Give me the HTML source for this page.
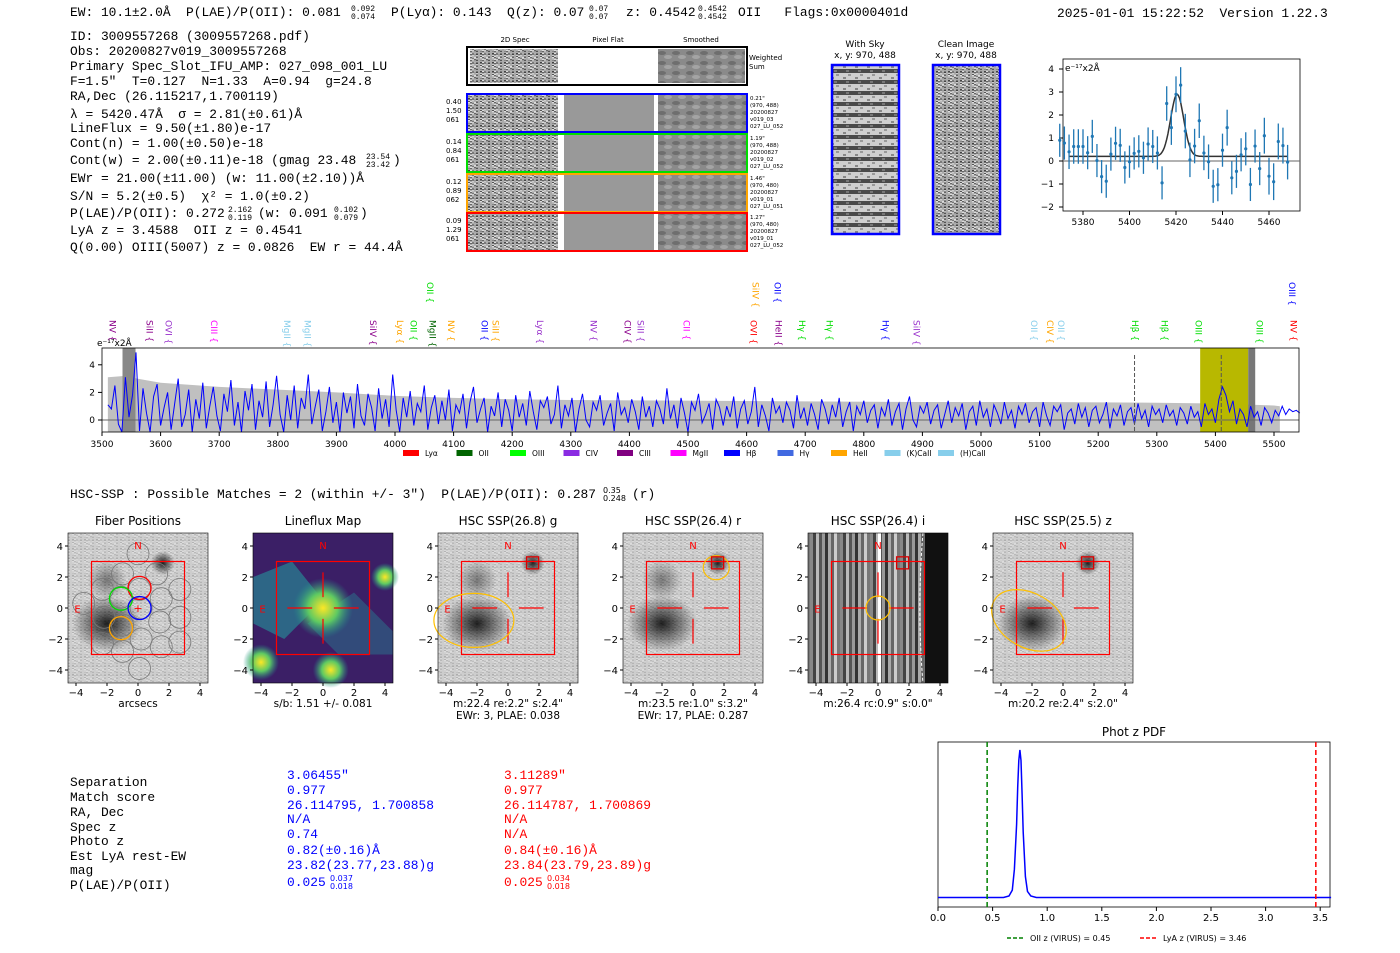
<!DOCTYPE html>
<html><head><meta charset="utf-8"><style>
body{margin:0;background:#fff;width:1400px;height:953px;overflow:hidden}
svg{display:block}
.m{font-family:"Liberation Mono",monospace;font-size:12.9px}
.s{font-family:"DejaVu Sans","Liberation Sans",sans-serif}
</style></head><body>
<svg id="root" width="1400" height="953" viewBox="0 0 1400 953" xmlns="http://www.w3.org/2000/svg">
<g class="m" fill="#000">
<text x="70" y="16">EW: 10.1±2.0Å&#160; P(LAE)/P(OII): 0.081</text>
<text x="351" y="11" font-size="8">0.092</text><text x="351" y="19" font-size="8">0.074</text>
<text x="391" y="16">P(Lyα): 0.143&#160; Q(z): 0.07</text><text x="589" y="11" font-size="8">0.07</text><text x="589" y="19" font-size="8">0.07</text>
<text x="626" y="16">z: 0.4542</text><text x="698" y="11" font-size="8">0.4542</text><text x="698" y="19" font-size="8">0.4542</text>
<text x="738" y="16">OII&#160;&#160;&#160;Flags:0x0000401d</text>
<text x="1057" y="17">2025-01-01 15:22:52&#160; Version 1.22.3</text>
</g>
<g class="m">
<text x="70" y="40">ID: 3009557268 (3009557268.pdf)</text>
<text x="70" y="55">Obs: 20200827v019_3009557268</text>
<text x="70" y="70">Primary Spec_Slot_IFU_AMP: 027_098_001_LU</text>
<text x="70" y="85">F=1.5"&#160; T=0.127&#160; N=1.33&#160; A=0.94&#160; g=24.8</text>
<text x="70" y="100">RA,Dec (26.115217,1.700119)</text>
<text x="70" y="118">λ = 5420.47Å&#160; σ = 2.81(±0.61)Å</text>
<text x="70" y="132">LineFlux = 9.50(±1.80)e-17</text>
<text x="70" y="147">Cont(n) = 1.00(±0.50)e-18</text>
<text x="70" y="164">Cont(w) = 2.00(±0.11)e-18 (gmag 23.48</text><text x="366" y="159" font-size="8">23.54</text><text x="366" y="167" font-size="8">23.42</text><text x="393" y="164">)</text>
<text x="70" y="182">EWr = 21.00(±11.00) (w: 11.00(±2.10))Å</text>
<text x="70" y="200">S/N = 5.2(±0.5)&#160; χ² = 1.0(±0.2)</text>
<text x="70" y="217">P(LAE)/P(OII): 0.272</text><text x="228" y="212" font-size="8">2.162</text><text x="228" y="220" font-size="8">0.119</text><text x="258" y="217">(w: 0.091</text><text x="334" y="212" font-size="8">0.102</text><text x="334" y="220" font-size="8">0.079</text><text x="360" y="217">)</text>
<text x="70" y="234">LyA z = 3.4588&#160; OII z = 0.4541</text>
<text x="70" y="251">Q(0.00) OIII(5007) z = 0.0826&#160; EW r = 44.4Å</text>
</g>
<g id="spec2d" class="s" font-size="7"></g>
<g id="small" class="s"></g>
<g id="spec" class="s"></g>
<text x="70" y="498" class="m">HSC-SSP : Possible Matches = 2 (within +/- 3")&#160; P(LAE)/P(OII): 0.287</text>
<text x="603" y="493" class="s" font-size="8">0.35</text><text x="603" y="501" class="s" font-size="8">0.248</text><text x="632" y="498" class="m">(r)</text>
<g id="cut" class="s"></g>
<g class="m">
<text x="70" y="786">Separation</text><text x="70" y="801">Match score</text><text x="70" y="816">RA, Dec</text><text x="70" y="831">Spec z</text><text x="70" y="845">Photo z</text><text x="70" y="860">Est LyA rest-EW</text><text x="70" y="874">mag</text><text x="70" y="889">P(LAE)/P(OII)</text>
<g fill="#0000ff"><text x="287" y="779">3.06455"</text><text x="287" y="794">0.977</text><text x="287" y="809">26.114795, 1.700858</text><text x="287" y="823">N/A</text><text x="287" y="838">0.74</text><text x="287" y="854">0.82(±0.16)Å</text><text x="287" y="869">23.82(23.77,23.88)g</text><text x="287" y="886">0.025</text><text x="330" y="881" font-size="8" class="s">0.037</text><text x="330" y="889" font-size="8" class="s">0.018</text></g>
<g fill="#ff0000"><text x="504" y="779">3.11289"</text><text x="504" y="794">0.977</text><text x="504" y="809">26.114787, 1.700869</text><text x="504" y="823">N/A</text><text x="504" y="838">N/A</text><text x="504" y="854">0.84(±0.16)Å</text><text x="504" y="869">23.84(23.79,23.89)g</text><text x="504" y="886">0.025</text><text x="547" y="881" font-size="8" class="s">0.034</text><text x="547" y="889" font-size="8" class="s">0.018</text></g>
</g>
<g id="pdf" class="s"></g>
</svg>
<script>
const NS='http://www.w3.org/2000/svg';
function mk(p,t,a,txt){const e=document.createElementNS(NS,t);for(const k in a)e.setAttribute(k,a[k]);if(txt!==undefined)e.textContent=txt;p.appendChild(e);return e;}

// ---------- Line fit plot data ----------
const fitWave=[5370,5372,5374,5376,5378,5380,5382,5384,5386,5388,5390,5392,5394,5396,5398,5400,5402,5404,5406,5408,5410,5412,5414,5416,5418,5420,5422,5424,5426,5428,5430,5432,5434,5436,5438,5440,5442,5444,5446,5448,5450,5452,5454,5456,5458,5460,5462,5464,5466,5468];
const fitFlux=[0.9,0.78,0.4,0.63,0.63,0.63,0.36,1.07,0.02,-0.68,-0.88,0.3,0.77,0.68,-0.28,-0.03,0.33,0.42,0.14,0.74,0.63,0.35,-0.95,2.5,1.45,2.9,3.3,1.3,0.05,0.65,1.75,0.35,-0.03,-1.1,-1.03,0.47,1.45,-0.73,-0.45,0.27,0.53,-1.02,0.65,-0.33,1.1,-0.66,-0.9,0.85,0.67,-0.05];
const fitErr=[0.72,0.72,0.75,0.75,0.75,0.75,0.72,0.72,0.72,0.72,0.72,0.72,0.72,0.72,0.7,0.7,0.7,0.7,0.7,0.72,0.72,0.72,0.72,0.75,0.75,0.78,0.78,0.75,0.75,0.75,0.75,0.75,0.75,0.72,0.72,0.72,0.78,0.72,0.72,0.72,0.72,0.72,0.72,0.72,0.78,0.8,0.8,0.78,0.78,0.75];
const fitModel={center:5420.5,amp:2.7,sigma:2.8,base:0.2};
const fitXTicks=[5380,5400,5420,5440,5460];
const fitYTicks=[-2,-1,0,1,2,3,4];
(function(){
 const g=document.getElementById('small');
 const X=w=>1083+(w-5380)*2.325, Y=v=>161-v*23;
 mk(g,'rect',{x:1063,y:59,width:237,height:152,fill:'#fff',stroke:'#000','stroke-width':0.8});
 mk(g,'line',{x1:1063,x2:1300,y1:Y(0),y2:Y(0),stroke:'#666','stroke-width':1});
 fitXTicks.forEach(t=>{mk(g,'line',{x1:X(t),x2:X(t),y1:211,y2:215,stroke:'#000'});mk(g,'text',{x:X(t),y:225,'font-size':9,'text-anchor':'middle'},t);});
 fitYTicks.forEach(t=>{mk(g,'line',{x1:1059,x2:1063,y1:Y(t),y2:Y(t),stroke:'#000'});mk(g,'text',{x:1054,y:Y(t)+3,'font-size':9,'text-anchor':'end'},t<0?'−'+(-t):t);});
 mk(g,'text',{x:1065,y:71,'font-size':9},'e⁻¹⁷x2Å');
 let d='';for(let w=5374;w<=5468;w+=0.5){const v=fitModel.base+fitModel.amp*Math.exp(-0.5*((w-fitModel.center)/fitModel.sigma)**2);d+=(d?'L':'M')+X(w).toFixed(1)+','+Y(v).toFixed(1);}
 mk(g,'path',{d:d,fill:'none',stroke:'#333','stroke-width':1.5});
 fitWave.forEach((w,i)=>{const e=mk(g,'line',{x1:X(w),x2:X(w),y1:Y(fitFlux[i]+fitErr[i]),y2:Y(fitFlux[i]-fitErr[i]),stroke:'#1f77b4','stroke-width':1.3});
  
  const c=mk(g,'circle',{cx:X(w),cy:Y(fitFlux[i]),r:1.6,fill:'#1f77b4'});
  });
})();

// ---------- 2D spectra ----------
(function(){
 const g=document.getElementById('spec2d');
 function noise(x,y,w,h,id){return mk(g,'rect',{x:x,y:y,width:w,height:h,fill:'url(#'+id+')'});}
 const defs=mk(document.getElementById('root'),'defs',{});
 const pat=mk(defs,'pattern',{id:'nz',width:12,height:9,patternUnits:'userSpaceOnUse'});
 const shades=['#777','#aaa','#555','#999','#bbb','#666','#888','#ccc','#444','#ddd','#7a7a7a','#b0b0b0'];
 for(let i=0;i<9;i++)for(let j=0;j<6;j++)mk(pat,'rect',{x:j*2,y:i,width:2,height:1,fill:shades[(i*7+j*5+i*j)%12]});
 const pat2=mk(defs,'pattern',{id:'sm',width:14,height:10,patternUnits:'userSpaceOnUse'});
 mk(pat2,'rect',{width:14,height:10,fill:'#8a8a8a'});mk(pat2,'ellipse',{cx:4,cy:3,rx:4,ry:2,fill:'#6e6e6e'});mk(pat2,'ellipse',{cx:10,cy:7,rx:4,ry:2,fill:'#a4a4a4'});
 mk(g,'text',{x:515,y:42,'text-anchor':'middle'},'2D Spec');mk(g,'text',{x:608,y:42,'text-anchor':'middle'},'Pixel Flat');mk(g,'text',{x:701,y:42,'text-anchor':'middle'},'Smoothed');
 mk(g,'rect',{x:467,y:47,width:280,height:38,fill:'#fff',stroke:'#000','stroke-width':2});
 noise(470,49,88,34,'nz');noise(658,49,87,34,'sm');
 mk(g,'text',{x:749,y:60},'Weighted');mk(g,'text',{x:749,y:69},'Sum');
 const rows=[[94,'#0000ff',['0.40','1.50','061'],['0.21"','(970, 488)','20200827','v019_03','027_LU_052']],[134,'#00dd00',['0.14','0.84','061'],['1.19"','(970, 488)','20200827','v019_02','027_LU_052']],[174,'#ffa500',['0.12','0.89','062'],['1.46"','(970, 480)','20200827','v019_01','027_LU_051']],[213,'#ff0000',['0.09','1.29','061'],['1.27"','(970, 480)','20200827','v019_01','027_LU_052']]];
 rows.forEach(r=>{const y=r[0];
  noise(468,y,90,38,'nz');mk(g,'rect',{x:558,y:y,width:6,height:38,fill:'#fff'});mk(g,'rect',{x:564,y:y,width:90,height:38,fill:'#999'});
  mk(g,'rect',{x:654,y:y,width:4,height:38,fill:'#fff'});noise(658,y,89,38,'sm');
  mk(g,'rect',{x:467,y:y,width:280,height:38,fill:'none',stroke:r[1],'stroke-width':2});
  r[2].forEach((t,i)=>mk(g,'text',{x:446,y:y+10+i*9},t));
  r[3].forEach((t,i)=>mk(g,'text',{x:750,y:y+6+i*7,'font-size':5.5},t));});
 mk(g,'text',{x:865,y:47,'text-anchor':'middle','font-size':9},'With Sky');mk(g,'text',{x:865,y:58,'text-anchor':'middle','font-size':9},'x, y: 970, 488');
 mk(g,'text',{x:966,y:47,'text-anchor':'middle','font-size':9},'Clean Image');mk(g,'text',{x:966,y:58,'text-anchor':'middle','font-size':9},'x, y: 970, 488');
 const p3=mk(defs,'pattern',{id:'sky',width:12,height:11,patternUnits:'userSpaceOnUse'});
 mk(p3,'rect',{width:12,height:11,fill:'#cfcfcf'});mk(p3,'rect',{y:3,width:12,height:4,fill:'#4a4a4a'});mk(p3,'rect',{x:3,y:0,width:3,height:2,fill:'#888'});mk(p3,'rect',{x:8,y:8,width:3,height:2,fill:'#999'});mk(p3,'rect',{x:6,y:4,width:3,height:2,fill:'#777'});
 mk(g,'rect',{x:832,y:65,width:67,height:169,fill:'url(#sky)',stroke:'#0000ff','stroke-width':2.5});
 mk(g,'rect',{x:933,y:65,width:67,height:169,fill:'url(#nz)',stroke:'#0000ff','stroke-width':2.5});
})();

// ---------- Full spectrum ----------
const specStart=3510, specStep=6;
const specFlux=[1.1,0.8,2.5,-0.3,-1,3.1,0.2,1.8,4.9,-0.8,2.3,0.5,-0.9,1.7,2.6,-0.4,0.9,2.0,-0.7,1.2,
3.0,-0.5,0.4,2.2,-0.9,1.5,0.1,2.7,-0.6,1.0,2.4,0.3,-0.8,1.9,0.6,2.9,-0.4,1.3,-1,2.1,
0.7,2.6,-0.7,1.4,0.2,2.8,-0.5,1.1,3.2,0.4,-0.9,1.8,0.0,2.5,-0.6,1.6,0.8,3.3,-0.3,1.0,
2.2,-0.8,0.6,2.4,-0.2,1.3,-0.9,2.0,0.5,1.7,-0.6,2.6,0.3,-0.4,1.9,0.9,-0.8,2.3,0.1,1.5,
-0.5,3.3,0.7,-0.9,1.6,0.2,2.1,-0.4,1.2,0.6,2.5,-0.7,0.9,1.8,-0.3,1.4,0.0,2.2,-0.8,1.1,
0.5,1.9,-0.6,1.3,2.4,-0.2,0.8,1.6,-0.9,1.0,0.3,2.0,-0.5,1.5,0.7,-0.8,1.8,0.2,1.2,-0.4,
2.1,0.6,-0.7,1.4,0.9,1.7,-0.3,0.4,2.5,-0.6,1.1,0.3,1.6,-0.9,0.8,1.9,0.0,-0.5,1.3,0.7,
1.8,-0.4,0.5,1.2,-0.8,2.0,0.4,0.9,-0.2,1.5,0.6,-0.7,1.7,0.2,1.0,-0.5,1.4,0.8,-0.3,2.3,
0.1,1.1,-0.6,1.6,0.5,-0.9,1.3,0.7,1.9,-0.2,0.4,1.2,-0.7,1.5,0.9,-0.4,1.0,0.2,1.7,-0.6,
0.8,1.4,-0.3,0.6,2.4,-0.5,1.1,0.3,-0.8,1.6,0.5,1.0,-0.2,1.3,0.7,-0.6,1.8,0.1,0.9,-0.4,
1.2,0.4,-0.7,1.5,0.8,-0.3,1.1,0.2,1.6,-0.5,0.6,1.3,-0.8,1.0,0.4,1.4,-0.2,0.7,1.1,-0.6,
0.9,0.3,1.5,-0.4,0.6,1.2,-0.7,0.8,1.7,0.0,-0.5,1.0,0.5,1.3,-0.3,0.7,1.1,-0.6,0.4,1.4,
-0.2,0.9,0.3,1.2,-0.7,0.6,1.0,-0.4,1.4,0.2,0.8,-0.5,1.1,0.5,-0.3,1.3,0.1,0.7,-0.6,1.0,
0.4,1.2,-0.2,0.6,0.9,-0.5,1.3,0.3,-0.4,1.0,0.6,1.1,-0.7,0.5,0.8,-0.3,1.2,0.2,0.9,-0.5,
0.7,1.0,-0.2,0.4,1.3,-0.6,0.8,0.3,1.1,-0.4,0.6,0.9,-0.3,1.2,0.1,0.7,-0.5,1.0,0.4,0.8,
-0.2,1.1,0.3,0.7,-0.4,0.9,0.5,-0.3,1.0,0.2,0.6,-0.5,1.2,0.4,0.8,-0.2,1.5,2.4,1.8,0.6,
1.4,-0.3,0.8,0.4,-0.5,1.0,0.2,0.6,-0.4,0.9,0.5,-0.2,0.7,0.3,1.0,0.4,0.8,0.6,0.7,0.5];
const errWave=[3510,3540,3560,3600,3700,3800,3900,4000,4100,4200,4300,4500,4700,4900,5100,5300,5400,5500,5510];
const errVal=[3.1,3.2,3.0,2.7,2.4,2.2,2.0,1.75,1.6,1.5,1.45,1.4,1.35,1.3,1.3,1.25,1.2,1.05,1.0];
const specXTicks=[3500,3600,3700,3800,3900,4000,4100,4200,4300,4400,4500,4600,4700,4800,4900,5000,5100,5200,5300,5400,5500];
const specYTicks=[0,2,4];
const lineNames=['NV','SiII','OVI','CIII','MgII','MgII','SiIV','Lyα','OII','MgII','NV','OII','SiII','Lyα','NV','CIV','SiII','CII','OVI','HeII','Hγ','Hγ','Hγ','SiIV','OII','CIV','OII','Hβ','Hβ','OIII','OIII','NV','OII','SiIV','OII','OIII'];
const lineWave=[3517,3580,3613,3690,3815,3850,3962,4008,4031,4063,4095,4152,4171,4247,4338,4396,4418,4497,4611,4654,4694,4741,4836,4889,5090,5117,5136,5262,5312,5370,5474,5532,4059,4614,4652,5530];
const lineColor=['#8b008b','#8b008b','#9932cc','#ff00ff','#87ceeb','#87ceeb','#8b008b','#ffa500','#00dd00','#006400','#ffa500','#0000ff','#ffa500','#9932cc','#9932cc','#8b008b','#9932cc','#ff00ff','#ff0000','#8b008b','#00dd00','#00dd00','#0000ff','#9932cc','#87ceeb','#ffa500','#87ceeb','#00dd00','#00dd00','#00dd00','#00dd00','#ff0000','#00dd00','#ffa500','#0000ff','#0000ff'];
const lineTier=[0,0,0,0,0,0,0,0,0,0,0,0,0,0,0,0,0,0,0,0,0,0,0,0,0,0,0,0,0,0,0,0,1,1,1,1];
const legendNames=['Lyα','OII','OIII','CIV','CIII','MgII','Hβ','Hγ','HeII','(K)CaII','(H)CaII'];
const legendColors=['#ff0000','#006400','#00ff00','#8a2be2','#800080','#ff00ff','#0000ff','#4169e1','#ffa500','#87ceeb','#87ceeb'];
(function(){
 const g=document.getElementById('spec');
 const X=w=>102+(w-3500)*0.586, Y=v=>420-v*13.8;
 mk(g,'rect',{x:102,y:348,width:1197,height:84,fill:'#fff'});
 let up='';errWave.forEach((w,i)=>{up+=(i?'L':'M')+X(w)+','+Math.max(348,Y(errVal[i]));});
 up+='L'+X(5510)+',432L'+X(3510)+',432Z';
 mk(g,'path',{d:up,fill:'#c0c0c0'});
 mk(g,'rect',{x:X(5374),y:348,width:X(5456)-X(5374),height:84,fill:'#b8b800'});
 mk(g,'rect',{x:X(5456),y:348,width:7,height:84,fill:'#777'});
 mk(g,'rect',{x:X(3535),y:348,width:13,height:84,fill:'#888'});
 mk(g,'line',{x1:102,x2:1299,y1:Y(0),y2:Y(0),stroke:'#666'});
 let d='';specFlux.forEach((v,i)=>{const vv=Math.max(-0.87,Math.min(4.9,v));d+=(i?'L':'M')+X(specStart+i*specStep).toFixed(1)+','+Y(vv).toFixed(1);});
 const pl=mk(g,'path',{d:d,fill:'none',stroke:'#0000ff','stroke-width':1});
 [5262,5410].forEach(w=>mk(g,'line',{x1:X(w),x2:X(w),y1:355,y2:432,stroke:'#555','stroke-dasharray':'4,2'}));
 mk(g,'rect',{x:102,y:348,width:1197,height:84,fill:'none',stroke:'#000','stroke-width':0.8});
 specXTicks.forEach(t=>{mk(g,'line',{x1:X(t),x2:X(t),y1:432,y2:436,stroke:'#000'});mk(g,'text',{x:X(t),y:447,'font-size':9,'text-anchor':'middle'},t);});
 specYTicks.forEach(t=>{mk(g,'line',{x1:98,x2:102,y1:Y(t),y2:Y(t),stroke:'#000'});mk(g,'text',{x:95,y:Y(t)+3,'font-size':9,'text-anchor':'end'},t);});
 mk(g,'text',{x:97,y:346,'font-size':9},'e⁻¹⁷x2Å');
 lineNames.forEach((n,i)=>{const x=X(lineWave[i]);const y=lineTier[i]?282:320;
  const t=mk(g,'text',{x:x,y:y,'font-size':9,fill:lineColor[i],transform:`rotate(90 ${x} ${y})`,'text-anchor':'start','dominant-baseline':'middle'},n+' {');
  });
 legendNames.forEach((n,i)=>{const x=403+i*53.5;mk(g,'rect',{x:x,y:450,width:16,height:6,fill:legendColors[i]});mk(g,'text',{x:x+22,y:456,'font-size':7.5},n);});
})();

// ---------- Cutouts ----------
const cutTitles=['Fiber Positions','Lineflux Map','HSC SSP(26.8) g','HSC SSP(26.4) r','HSC SSP(26.4) i','HSC SSP(25.5) z'];
const cutCap1=['arcsecs','s/b: 1.51 +/- 0.081','m:22.4  re:2.2"  s:2.4"','m:23.5  re:1.0"  s:3.2"','m:26.4 rc:0.9"  s:0.0"','m:20.2  re:2.4"  s:2.0"'];
const cutCap2=['','','EWr: 3, PLAE: 0.038','EWr: 17, PLAE: 0.287','',''];
const cutTicks=[-4,-2,0,2,4];
(function(){
 const g=document.getElementById('cut');const defs=document.querySelector('defs');
 const rg=mk(defs,'radialGradient',{id:'blob'});mk(rg,'stop',{offset:'0','stop-color':'#000','stop-opacity':0.85});mk(rg,'stop',{offset:'1','stop-color':'#000','stop-opacity':0});
 const rg2=mk(defs,'radialGradient',{id:'yel'});mk(rg2,'stop',{offset:'0','stop-color':'#fde725'});mk(rg2,'stop',{offset:'0.5','stop-color':'#5ec962'});mk(rg2,'stop',{offset:'1','stop-color':'#21918c','stop-opacity':0});
 const ip=mk(defs,'pattern',{id:'ib',width:30,height:8,patternUnits:'userSpaceOnUse'});
 ['#888','#444','#bbb','#555','#999','#333','#aaa','#666','#ccc','#777'].forEach((c,i)=>mk(ip,'rect',{x:i*3,width:3,height:8,fill:c}));
 cutTitles.forEach((tt,k)=>{
  const L=68+k*185, T=533, W=140, H=150, s=15.5;
  const X=v=>L+W/2+v*s, Y=v=>T+H/2-v*s;
  const pg=mk(g,'g',{});
  mk(pg,'text',{x:L+W/2,y:525,'font-size':12,'text-anchor':'middle'},tt);
  if(k==1){mk(pg,'rect',{x:L,y:T,width:W,height:H,fill:'#3b1f66'});
   mk(pg,'path',{d:`M${X(-4.5)},${Y(2)} L${X(-2)},${Y(3)} L${X(0)},${Y(0.5)} L${X(-2.5)},${Y(-2)} L${X(-4.5)},${Y(-1)} Z`,fill:'#2a788e',opacity:0.8});
   mk(pg,'path',{d:`M${X(-1)},${Y(-1)} L${X(2)},${Y(1)} L${X(4.5)},${Y(-1.5)} L${X(4.5)},${Y(-3)} L${X(1)},${Y(-3)} Z`,fill:'#2a788e',opacity:0.5});
   [[0,0,30],[-4,-3.5,18],[0.5,-4,18],[4,2,14]].forEach(b=>mk(pg,'circle',{cx:X(b[0]),cy:Y(b[1]),r:b[2],fill:'url(#yel)'}));
  }else if(k==4){mk(pg,'rect',{x:L,y:T,width:W,height:H,fill:'url(#ib)'});mk(pg,'rect',{x:X(3),y:T,width:X(4.5)-X(3),height:H,fill:'#111'});mk(pg,'rect',{x:X(0),y:T,width:3,height:H,fill:'#fff'});
   mk(pg,'path',{d:`M${X(2.9)},${T} Q${X(2.5)},${T+H/2} ${X(2.9)},${T+H}`,fill:'none',stroke:'#fff','stroke-dasharray':'3,2'});
  }else{mk(pg,'rect',{x:L,y:T,width:W,height:H,fill:'#dcdcdc'});mk(pg,'rect',{x:L,y:T,width:W,height:H,fill:'url(#nz)',opacity:0.3});
   mk(pg,'ellipse',{cx:X(-2),cy:Y(-1),rx:35,ry:28,fill:'url(#blob)'});
   if(k!=5)mk(pg,'circle',{cx:X(-2),cy:Y(1.8),r:20,fill:'url(#blob)',opacity:0.5});
   mk(pg,'circle',{cx:X(1.6),cy:Y(2.9),r:12,fill:'url(#blob)'});}
  if(k==0){[[0,3.5],[-1,2.2],[1.2,2.2],[-2.3,1.2],[-1.1,0.7],[0.1,1.2],[-2.2,-0.6],[-1,-1.1],[0.2,0],[1.5,0.6],[2.7,1.2],[1.4,-0.9],[2.7,-0.6],[-1,-2.8],[0.2,-2],[1.5,-2.5],[2.7,-2.2],[-2.3,-2.3],[0.1,-3.9],[-3.5,0.3]].forEach(c=>mk(pg,'circle',{cx:X(c[0]),cy:Y(c[1]),r:11,fill:'none',stroke:'#777','stroke-width':0.8}));
   [[0.1,1.3,'#ff0000'],[-1.1,0.6,'#00dd00'],[0.1,0,'#0000ff'],[-1.1,-1.3,'#ffa500']].forEach(c=>mk(pg,'circle',{cx:X(c[0]),cy:Y(c[1]),r:11.5,fill:'none',stroke:c[2],'stroke-width':1.3}));
   mk(pg,'text',{x:X(0),y:Y(0)+4,'text-anchor':'middle',fill:'red','font-size':11},'+');}
  mk(pg,'rect',{x:X(-3),y:Y(3),width:6*s,height:6*s,fill:'none',stroke:'#ff0000','stroke-width':1.2});
  if(k>0){[[-2.3,-0.7],[0.7,2.3]].forEach(a=>{mk(pg,'line',{x1:X(a[0]),x2:X(a[1]),y1:Y(0),y2:Y(0),stroke:'red','stroke-width':1.2});mk(pg,'line',{y1:Y(a[0]),y2:Y(a[1]),x1:X(0),x2:X(0),stroke:'red','stroke-width':1.2});});}
  if(k==2||k==5)mk(pg,'ellipse',{cx:X(-2.2),cy:Y(-0.8),rx:40,ry:27,fill:'none',stroke:'#ffc000','stroke-width':1.2,transform:k==5?`rotate(30 ${X(-2.2)} ${Y(-0.8)})`:''});
  if(k==3)mk(pg,'ellipse',{cx:X(1.5),cy:Y(2.6),rx:13,ry:12,fill:'none',stroke:'#ffc000','stroke-width':1.2});
  if(k==4)mk(pg,'circle',{cx:X(0),cy:Y(0),r:12,fill:'none',stroke:'#ffc000','stroke-width':1.2});
  if(k>=2)mk(pg,'rect',{x:X(1.2),y:Y(3.3),width:12,height:12,fill:'none',stroke:'#dd0000','stroke-width':1.3});
  mk(pg,'text',{x:X(0),y:Y(3.8),fill:'red','font-size':10,'text-anchor':'middle'},'N');
  mk(pg,'text',{x:X(-3.9),y:Y(-0.3),fill:'red','font-size':10,'text-anchor':'middle'},'E');
  mk(pg,'rect',{x:L,y:T,width:W,height:H,fill:'none',stroke:'#000','stroke-width':0.6});
  cutTicks.forEach(t=>{mk(pg,'line',{x1:X(t),x2:X(t),y1:T+H,y2:T+H+3,stroke:'#000'});mk(pg,'text',{x:X(t),y:T+H+13,'font-size':10,'text-anchor':'middle'},t<0?'−'+(-t):t);
   mk(pg,'line',{x1:L-3,x2:L,y1:Y(t),y2:Y(t),stroke:'#000'});mk(pg,'text',{x:L-5,y:Y(t)+4,'font-size':10,'text-anchor':'end'},t<0?'−'+(-t):t);});
  mk(pg,'text',{x:L+W/2,y:707,'font-size':10.5,'text-anchor':'middle'},cutCap1[k]);
  if(cutCap2[k])mk(pg,'text',{x:L+W/2,y:719,'font-size':10.5,'text-anchor':'middle'},cutCap2[k]);
 });
})();

// ---------- Phot z PDF ----------
const pdfZ=[0,0.5,0.6,0.65,0.68,0.7,0.72,0.73,0.74,0.75,0.76,0.77,0.78,0.8,0.82,0.85,0.9,1.0,3.6];
const pdfP=[0.01,0.01,0.01,0.02,0.06,0.2,0.5,0.75,0.93,1.0,0.93,0.7,0.45,0.15,0.05,0.02,0.01,0.01,0.01];
const pdfXTicks=[0,0.5,1,1.5,2,2.5,3,3.5];
const pdfOII=0.45, pdfLyA=3.46;
(function(){
 const g=document.getElementById('pdf');
 const X=z=>938+z*109.2, Y=p=>899-p*149;
 mk(g,'text',{x:1134,y:736,'font-size':12,'text-anchor':'middle'},'Phot z PDF');
 mk(g,'rect',{x:938,y:742,width:392,height:165,fill:'#fff',stroke:'#000','stroke-width':0.8});
 let d='';pdfZ.forEach((z,i)=>d+=(i?'L':'M')+X(z).toFixed(1)+','+Y(pdfP[i]).toFixed(1));
 mk(g,'path',{d:d,fill:'none',stroke:'#0000ff','stroke-width':1.5});
 mk(g,'line',{x1:X(pdfOII),x2:X(pdfOII),y1:742,y2:907,stroke:'#008000','stroke-width':1.5,'stroke-dasharray':'5,3'});
 mk(g,'line',{x1:X(pdfLyA),x2:X(pdfLyA),y1:742,y2:907,stroke:'#ff0000','stroke-width':1.5,'stroke-dasharray':'5,3'});
 pdfXTicks.forEach(t=>{mk(g,'line',{x1:X(t),x2:X(t),y1:907,y2:911,stroke:'#000'});mk(g,'text',{x:X(t),y:921,'font-size':10,'text-anchor':'middle'},t.toFixed(1));});
 mk(g,'line',{x1:1007,x2:1023,y1:938,y2:938,stroke:'#008000','stroke-width':1.5,'stroke-dasharray':'4,2'});
 mk(g,'text',{x:1030,y:941,'font-size':8},'OII z (VIRUS) = 0.45');
 mk(g,'line',{x1:1140,x2:1156,y1:938,y2:938,stroke:'#ff0000','stroke-width':1.5,'stroke-dasharray':'4,2'});
 mk(g,'text',{x:1163,y:941,'font-size':8},'LyA z (VIRUS) = 3.46');
})();
</script>
</body></html>
